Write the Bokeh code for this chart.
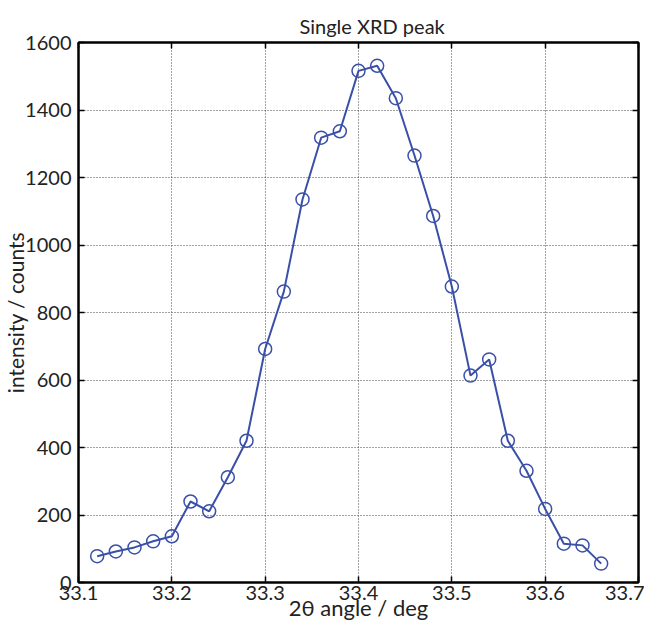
from bokeh.plotting import figure
from bokeh.models import LinearAxis, FixedTicker, Range1d, CustomJSTickFormatter
from bokeh.embed import file_html
from bokeh.resources import INLINE

angle = [33.12, 33.14, 33.16, 33.18, 33.20, 33.22, 33.24, 33.26, 33.28, 33.30,
         33.32, 33.34, 33.36, 33.38, 33.40, 33.42, 33.44, 33.46, 33.48, 33.50,
         33.52, 33.54, 33.56, 33.58, 33.60, 33.62, 33.64, 33.66]
counts = [78, 92, 104, 122, 137, 240, 211, 312, 420, 692,
          862, 1135, 1318, 1337, 1516, 1531, 1435, 1265, 1086, 877,
          613, 661, 420, 331, 218, 115, 110, 56]
x_ticks = [33.1, 33.2, 33.3, 33.4, 33.5, 33.6, 33.7]
y_ticks = [0, 200, 400, 600, 800, 1000, 1200, 1400, 1600]

FONT = "Lato"
COL = "#3a50a8"
TXT = "#222222"

p = figure(width=644, height=623, output_backend="svg", toolbar_location=None,
           x_range=Range1d(33.1, 33.7), y_range=Range1d(0, 1600),
           title="Single XRD peak", min_border_left=72, min_border_right=6,
           min_border_top=42, min_border_bottom=0)

p.title.align = "left"
p.title.offset = 221
p.title.text_font = FONT
p.title.text_font_size = "20px"
p.title.text_font_style = "normal"
p.title.text_color = TXT
p.title.standoff = 9

p.line(angle, counts, line_color=COL, line_width=2)
p.scatter(angle, counts, size=13, fill_color=None, line_color=COL, line_width=1.5)

p.outline_line_color = "black"
p.outline_line_width = 2
p.background_fill_color = "white"
p.border_fill_color = "white"

for ax in p.xaxis:
    ax.ticker = FixedTicker(ticks=x_ticks)
for ax in p.yaxis:
    ax.ticker = FixedTicker(ticks=y_ticks)

def style_axis(ax):
    ax.major_tick_in = 6
    ax.major_tick_out = 0
    ax.minor_tick_in = 0
    ax.minor_tick_out = 0
    ax.major_tick_line_color = "black"
    ax.major_tick_line_width = 1.5
    ax.axis_line_color = "black"
    ax.axis_line_width = 2
    ax.major_label_text_font = FONT
    ax.major_label_text_font_size = "20px"
    ax.major_label_text_color = TXT
    ax.axis_label_text_font = FONT
    ax.axis_label_text_font_style = "normal"
    ax.axis_label_text_color = TXT

style_axis(p.xaxis[0])
style_axis(p.yaxis[0])
p.xaxis[0].axis_label = "2θ angle / deg"
p.yaxis[0].axis_label = "intensity / counts"
p.xaxis[0].axis_label_text_font_size = "22px"
p.yaxis[0].axis_label_text_font_size = "21px"
p.xaxis[0].major_label_standoff = 3
p.yaxis[0].major_label_standoff = 7
p.xaxis[0].axis_label_standoff = -9
p.yaxis[0].axis_label_standoff = -6

blank = CustomJSTickFormatter(code="return ''")
top = LinearAxis(ticker=FixedTicker(ticks=x_ticks), formatter=blank)
right = LinearAxis(ticker=FixedTicker(ticks=y_ticks), formatter=blank)
for ax in (top, right):
    style_axis(ax)
    ax.major_label_standoff = 0
    ax.axis_label_standoff = 0
p.add_layout(top, "above")
p.add_layout(right, "right")

p.xgrid.ticker = FixedTicker(ticks=x_ticks)
p.ygrid.ticker = FixedTicker(ticks=y_ticks)
p.grid.grid_line_color = "#444444"
p.grid.grid_line_dash = "1 2"
p.grid.grid_line_width = 1

open("out.html", "w").write(file_html(p, INLINE))
